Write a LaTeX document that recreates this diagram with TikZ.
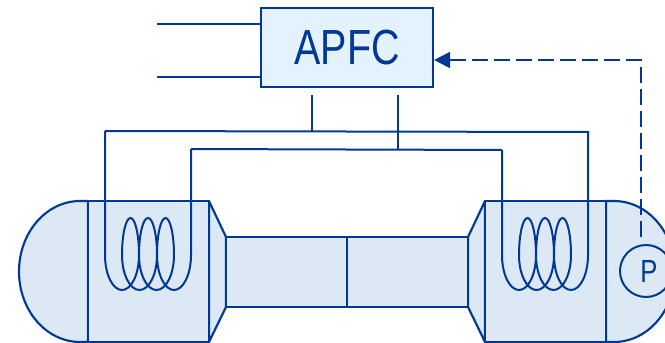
\documentclass[tikz,border=0pt]{standalone}
\usepackage{fontspec}
\setmainfont{Liberation Sans}
\newfontfamily\narrowfont[FakeStretch=0.8]{Liberation Sans}
\usetikzlibrary{arrows.meta, positioning}
\definecolor{lineblue}{RGB}{0,56,147}
\definecolor{bodyblue}{RGB}{220,233,245}
\definecolor{boxblue}{RGB}{228,242,254}
\tikzset{
    body/.style={draw=lineblue, fill=bodyblue, line width=1.6pt, line join=round},
    wire/.style={draw=lineblue, line width=1.5pt},
    control/.style={rectangle, draw=lineblue, fill=boxblue, line width=1.6pt, text=lineblue, minimum width=129pt, minimum height=59pt, font=\narrowfont\fontsize{37}{38}\selectfont},
    sensor/.style={circle, draw=lineblue, fill=bodyblue, line width=1.5pt, text=lineblue, minimum size=39pt, inner sep=0pt, font=\narrowfont\fontsize{24}{25}\selectfont},
    feedback/.style={draw=lineblue, line width=1.5pt, dash pattern=on 12pt off 4.5pt, -{Triangle[length=12pt, width=12pt]}},
}
\begin{document}
\begin{tikzpicture}[x=0.75pt, y=-0.75pt]
    \useasboundingbox (0,0) rectangle (665,343);
    % laser body
    \draw[body] (88,201) -- (80,201) arc[start angle=-90, end angle=-270, x radius=61, y radius=70.5] -- (88,342) -- cycle;
    \draw[body] (606,201) -- (614,201) arc[start angle=-90, end angle=90, x radius=61, y radius=70.5] -- (606,342) -- cycle;
    \draw[body] (209,201) -- (226,237) -- (226,307) -- (209,342) -- cycle;
    \draw[body] (485,201) -- (468,237) -- (468,307) -- (485,342) -- cycle;
    \draw[body] (88,201) rectangle (209,342);
    \draw[body] (485,201) rectangle (606,342);
    \draw[body] (226,237) rectangle (468,307);
    \draw[wire] (347,237) -- (347,307);
    % controller
    \node[control] (apfc) at (347,47.5) {APFC};
    \node[sensor] (sensor) at (646,271) {\hspace*{4.5pt}P};
    \coordinate (inA) at (157,24);
    \coordinate (inB) at (157,77);
    \coordinate (dropA) at (312,95);
    \coordinate (dropB) at (398,95);
    \coordinate (tapA) at (312,131);
    \coordinate (tapB) at (398,150);
    \coordinate (corner) at (641,60);
    \coordinate (sensorTop) at (641,237);
    \draw[wire] (inA) -- (inA -| apfc.west);
    \draw[wire] (inB) -- (inB -| apfc.west);
    \draw[wire] (dropA) -- (tapA);
    \draw[wire] (dropB) -- (tapB);
    % coils
    \foreach \dx/\ya/\yb in {0/131/149,397/150/132}{
        \draw[wire] (105+\dx,\ya) -- (105+\dx,255)
            arc[start angle=180, end angle=0, x radius=17, y radius=35]
            arc[start angle=0, end angle=-180, x radius=8.5, y radius=37]
            arc[start angle=180, end angle=0, x radius=17.5, y radius=35]
            arc[start angle=0, end angle=-180, x radius=9, y radius=37]
            arc[start angle=180, end angle=0, x radius=17.5, y radius=35]
            arc[start angle=0, end angle=-180, x radius=8.5, y radius=37]
            arc[start angle=180, end angle=0, x radius=17, y radius=35]
            -- (191+\dx,\yb);
    }
    \draw[wire] (105,131) -- (589,132);
    \draw[wire] (191,149) -- (502,150);
    \draw[feedback] (sensorTop) -- (corner) -- (apfc.east |- corner);
\end{tikzpicture}
\end{document}
